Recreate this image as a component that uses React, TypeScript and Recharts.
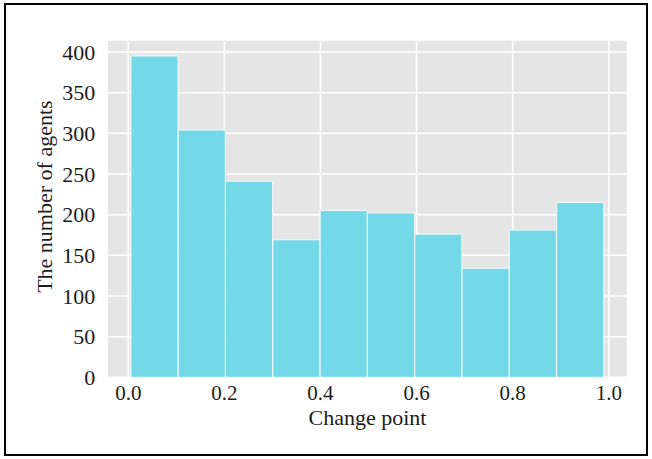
import React from "react";
import { ComposedChart, Bar, XAxis, YAxis, CartesianGrid, Label } from "recharts";

// Histogram bin edges (Change point) and counts (number of agents)
const binEdges = [0.0056, 0.104, 0.2025, 0.3009, 0.3994, 0.4978, 0.5962, 0.6947, 0.7931, 0.8916, 0.99];
const binCounts = [395, 304, 241, 169, 205, 202, 176, 134, 181, 215];
const xTicks = [0, 0.2, 0.4, 0.6, 0.8, 1.0];
const yTicks = [0, 50, 100, 150, 200, 250, 300, 350, 400];

const xLabel = "Change point";
const yLabel = "The number of agents";

const data = binCounts.map((count, i) => ({
  center: (binEdges[i] + binEdges[i + 1]) / 2,
  count,
}));

const dataMin = binEdges[0];
const dataMax = binEdges[binEdges.length - 1];
const xPad = (dataMax - dataMin) * 0.05;
const xDomain: [number, number] = [dataMin - xPad, dataMax + xPad];
const yDomain: [number, number] = [0, Math.max(...binCounts) * 1.05];

const FONT = "'Liberation Serif', 'Times New Roman', serif";
const TEXT = "#1c1c1c";

const YLabelContent = (props: any) => {
  const vb = props.viewBox || {};
  const cx = vb.x + 27;
  const cy = vb.y + vb.height / 2 - 12;
  return (
    <text
      x={cx}
      y={cy}
      transform={`rotate(-90 ${cx} ${cy})`}
      textAnchor="middle"
      dy="0.355em"
      fontFamily={FONT}
      fontSize={22}
      fill={TEXT}
    >
      {yLabel}
    </text>
  );
};

export default function App() {
  return (
    <div style={{ position: "absolute", left: 0, top: 0, width: 652, height: 459, background: "#fff" }}>
      <div
        style={{
          position: "absolute",
          left: 4,
          top: 3,
          width: 644,
          height: 453,
          border: "2px solid #000",
          boxSizing: "border-box",
        }}
      />
      <div style={{ position: "absolute", left: 0, top: 0 }}>
        <ComposedChart
          width={652}
          height={459}
          data={data}
          margin={{ top: 40, right: 24.4, bottom: 21.7, left: 17.3 }}
          barCategoryGap={0}
          barGap={0}
        >
          <CartesianGrid fill="#e5e5e5" stroke="#ffffff" strokeWidth={1.5} />
          <XAxis
            dataKey="center"
            type="number"
            domain={xDomain}
            allowDataOverflow
            ticks={xTicks}
            tickFormatter={(v: number) => v.toFixed(1)}
            axisLine={false}
            tickLine={false}
            tickSize={0}
            tickMargin={8}
            height={60}
            interval={0}
            tick={{ fontFamily: FONT, fontSize: 21, fill: TEXT }}
          >
            <Label
              value={xLabel}
              position="insideBottom"
              offset={12.3}
              style={{ fontFamily: FONT, fontSize: 22, fill: TEXT }}
            />
          </XAxis>
          <YAxis
            type="number"
            domain={yDomain}
            allowDataOverflow
            ticks={yTicks}
            axisLine={false}
            tickLine={false}
            tickSize={0}
            tickMargin={12}
            width={90}
            interval={0}
            tick={{ fontFamily: FONT, fontSize: 22, fill: TEXT }}
          >
            <Label content={YLabelContent} />
          </YAxis>
          <Bar
            dataKey="count"
            fill="#73d9e8"
            stroke="#ffffff"
            strokeWidth={0.8}
            isAnimationActive={false}
          />
        </ComposedChart>
      </div>
    </div>
  );
}
